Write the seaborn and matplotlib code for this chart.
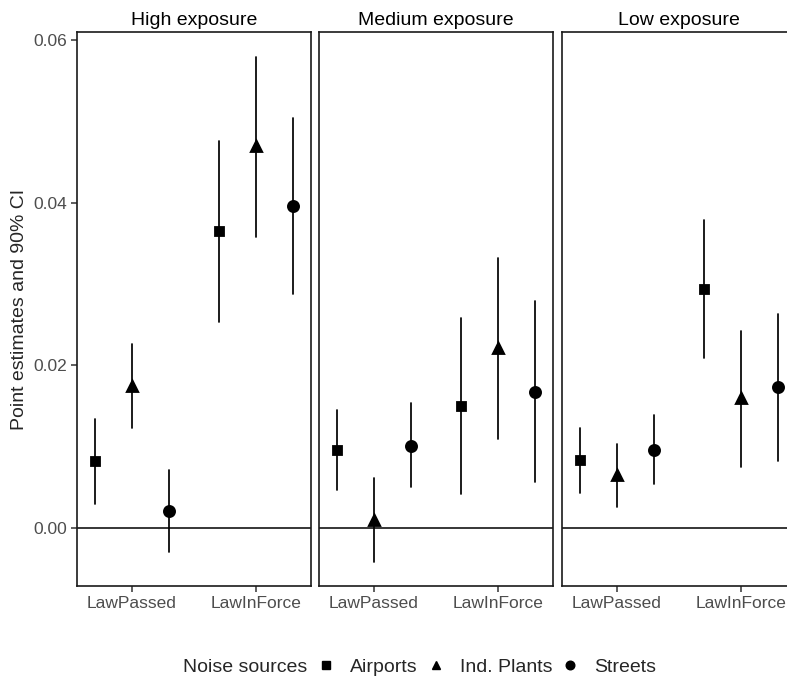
import pandas as pd
import numpy as np
import seaborn as sns
from matplotlib import pyplot as plt
from matplotlib.lines import Line2D

# datos
periods = ["LawPassed", "LawInForce"]
sources = ["Airports", "Ind. Plants", "Streets"]
exposures = ["High exposure", "Medium exposure", "Low exposure"]

# orden: LawPassed (A, I, S), LawInForce (A, I, S)
high_est = [0.0082, 0.0174, 0.0021, 0.0365, 0.0469, 0.0396]
high_lo = [0.0029, 0.0122, -0.0030, 0.0253, 0.0358, 0.0288]
high_hi = [0.0134, 0.0226, 0.0071, 0.0476, 0.0579, 0.0504]

medium_est = [0.0096, 0.0010, 0.0101, 0.0150, 0.0221, 0.0167]
medium_lo = [0.0046, -0.0042, 0.0050, 0.0042, 0.0109, 0.0056]
medium_hi = [0.0145, 0.0061, 0.0153, 0.0258, 0.0332, 0.0279]

low_est = [0.0083, 0.0065, 0.0096, 0.0294, 0.0159, 0.0173]
low_lo = [0.0043, 0.0026, 0.0054, 0.0209, 0.0075, 0.0082]
low_hi = [0.0122, 0.0103, 0.0138, 0.0379, 0.0242, 0.0263]

series = {
    "High exposure": (high_est, high_lo, high_hi),
    "Medium exposure": (medium_est, medium_lo, medium_hi),
    "Low exposure": (low_est, low_lo, low_hi),
}

# tabla larga: tres filas (lo, est, hi) por punto; la mediana da el estimado
rows = []
for exp in exposures:
    est, lo, hi = series[exp]
    k = 0
    for per in periods:
        for src in sources:
            for v in (lo[k], est[k], hi[k]):
                rows.append({"exposure": exp, "period": per, "source": src, "value": v})
            k += 1
df = pd.DataFrame(rows)

sns.set_style("white")
plt.rcParams["font.family"] = ["Liberation Sans", "DejaVu Sans"]

fig = plt.figure(figsize=(7.87, 6.84), dpi=100)
W, H = 787, 684
markers = ["s", "^", "o"]
msizes = {"Airports": 6.3, "Ind. Plants": 7.0, "Streets": 7.3}

axes = []
for i, exp in enumerate(exposures):
    left = [77, 319, 562][i]
    ax = fig.add_axes([left / W, (H - 586) / H, 234 / W, 554 / H])
    axes.append(ax)
    ax.axhline(0, color="black", lw=1.1, zorder=1)
    sns.pointplot(data=df[df["exposure"] == exp], x="period", y="value", hue="source",
                  order=periods, hue_order=sources, estimator="median",
                  errorbar=lambda v: (v.min(), v.max()), dodge=0.6, linestyle="none",
                  markers=markers, palette={s: "black" for s in sources},
                  err_kws={"linewidth": 1.25}, legend=False, ax=ax)
    for line, src in zip([l for l in ax.lines if l.get_marker() in markers], sources):
        line.set_markersize(msizes[src])
    ax.set_xlim(-0.441, 1.444)
    ax.set_ylim(-0.00718, 0.06098)
    ax.set_xlabel("")
    ax.set_ylabel("")
    ax.set_title(exp, fontsize=14, color="black", pad=5)
    for sp in ax.spines.values():
        sp.set_visible(True)
        sp.set_color("#1a1a1a")
        sp.set_linewidth(1.2)
    ax.tick_params(axis="x", bottom=True, length=4, width=1.1, color="#333333",
                   labelsize=12.5, labelcolor="#4D4D4D", pad=3)
    ax.set_yticks([0, 0.02, 0.04, 0.06])
    if i == 0:
        ax.set_yticklabels(["0.00", "0.02", "0.04", "0.06"])
        ax.tick_params(axis="y", left=True, length=4, width=1.1, color="#333333",
                       labelsize=12.5, labelcolor="#4D4D4D", pad=3)
        ax.set_ylabel("Point estimates and 90% CI", fontsize=14, labelpad=4)
    else:
        ax.tick_params(axis="y", left=False, labelleft=False)

# leyenda inferior con titulo en linea
fig.text(183 / W, 1 - 667 / H, "Noise sources", fontsize=14, va="center", ha="left")
handles = [Line2D([], [], linestyle="none", marker=m, color="black",
                  markersize=s) for m, s in zip(markers, [5.3, 6.2, 6.2])]
fig.legend(handles, sources, loc="center left", bbox_to_anchor=(316 / W, 1 - 667 / H),
           ncol=3, frameon=False, fontsize=14, handlelength=1.0, handletextpad=0.75,
           columnspacing=0.42, borderaxespad=0, borderpad=0)

fig.savefig("out.png", dpi=100)
